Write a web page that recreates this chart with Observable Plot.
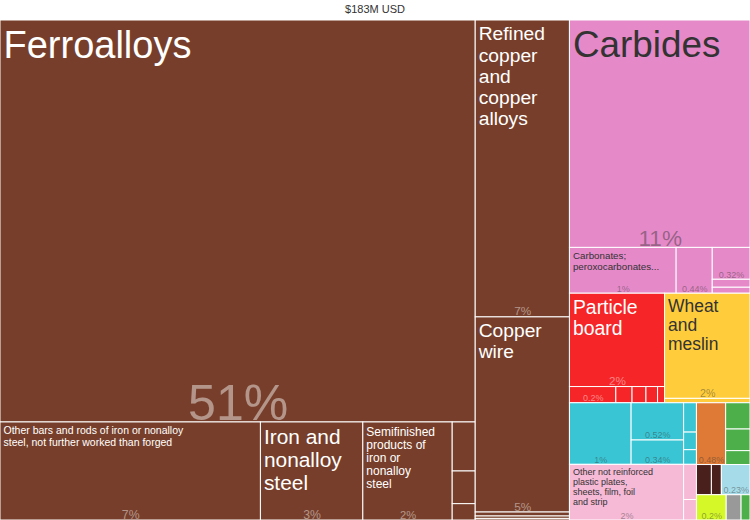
<!DOCTYPE html>
<html>
<head>
<meta charset="utf-8">
<script src="https://cdn.jsdelivr.net/npm/d3@7"></script>
<script src="https://cdn.jsdelivr.net/npm/@observablehq/plot@0.6"></script>
<style>
  body { margin: 0; font-family: "Liberation Sans", Arial, sans-serif; }
  #title { height: 20px; line-height: 18px; text-align: center; font-size: 11px; color: #333; }
</style>
</head>
<body>
<div id="title">$183M USD</div>
<div id="chart"></div>
<script>
// leaf names, share of total (%), colour, and the nesting path used by the slice/dice layout
const names = [
  "Ferroalloys", "Other bars and rods of iron or nonalloy steel, not further worked than forged",
  "Iron and nonalloy steel", "Semifinished products of iron or nonalloy steel", "", "", "",
  "Refined copper and copper alloys", "Copper wire", "", "", "",
  "Carbides", "Carbonates; peroxocarbonates...", "", "", "", "",
  "Particle board", "", "", "", "", "", "Wheat and meslin", "",
  "", "", "", "", "", "", "Other not reinforced plastic plates, sheets, film, foil and strip", "", "",
  "", "", "", "", "", "", "", "", "", ""
]
const values = [
  50.8, 6.79, 2.67, 2.33, 0.3, 0.2, 0.1,
  7.44, 4.89, 0.1, 0.06, 0.04,
  10.92, 1.3, 0.44, 0.32, 0.08, 0.06,
  2.36, 0.2, 0.07, 0.06, 0.05, 0.03, 2.39, 0.1,
  1.01, 0.52, 0.34, 0.1, 0.06, 0.05, 1.69, 0.12, 0.07,
  0.48, 0.17, 0.14, 0.09, 0.12, 0.08, 0.23, 0.2, 0.1, 0.06
]
const colors = [
  "#773f2b", "#773f2b", "#773f2b", "#773f2b", "#773f2b", "#773f2b", "#773f2b",
  "#773f2b", "#773f2b", "#773f2b", "#773f2b", "#773f2b",
  "#e589c8", "#e589c8", "#e589c8", "#e589c8", "#e589c8", "#e589c8",
  "#f62528", "#f62528", "#f62528", "#f62528", "#f62528", "#f62528", "#ffcd3c", "#ffcd3c",
  "#3ac5d4", "#3ac5d4", "#3ac5d4", "#3ac5d4", "#3ac5d4", "#3ac5d4", "#f6b9d6", "#f6b9d6", "#f6b9d6",
  "#de7a35", "#4caf4a", "#4caf4a", "#4caf4a", "#4a201c", "#4a201c", "#a6dce9", "#d4f828", "#999999", "#4caf4a"
]
const paths = [
  "A/a", "A/b", "A/b", "A/b", "A/b/s", "A/b/s", "A/b/s",
  "B", "B", "B/s/t", "B/s/t", "B/s/t",
  "C/a/x", "C/a/x/r", "C/a/x/r", "C/a/x/r/c", "C/a/x/r/c", "C/a/x/r/c",
  "C/b/p", "C/b/p/r", "C/b/p/r", "C/b/p/r", "C/b/p/r", "C/b/p/r", "C/b/w", "C/b/w",
  "C/c/l/cy", "C/c/l/cy/m", "C/c/l/cy/m", "C/c/l/cy/s", "C/c/l/cy/s", "C/c/l/cy/s", "C/c/l/pk", "C/c/l/pk/s", "C/c/l/pk/s",
  "C/c/o/t", "C/c/o/t/g", "C/c/o/t/g", "C/c/o/t/g", "C/c/o/m", "C/c/o/m", "C/c/o/m", "C/c/o/b", "C/c/o/b", "C/c/o/b"
]

const W = 750, H = 500

// build nested tree from paths
const root = {children: []}
names.forEach((name, i) => {
  let node = root
  for (const key of paths[i].split("/")) {
    let child = node.children.find(c => c.key === key)
    if (!child) { child = {key, children: []}; node.children.push(child) }
    node = child
  }
  node.children.push({name, value: values[i], color: colors[i], children: []})
})

const h = d3.hierarchy(root, d => d.children.length ? d.children : null)
  .sum(d => d.children.length ? 0 : d.value)
d3.treemap().size([W, H]).tile(d3.treemapSliceDice).round(false)(h)

const total = d3.sum(values)
const fmt = v => {
  const p = v / total * 100
  return p >= 1 ? Math.round(p) + "%" : (+p.toPrecision(2)) + "%"
}

function wrap(text, size, width) {
  const words = text.split(" "), lines = []
  let cur = ""
  for (const w of words) {
    const t = cur ? cur + " " + w : w
    if (t.length * size * 0.55 > width && cur) { lines.push(cur); cur = w } else cur = t
  }
  if (cur) lines.push(cur)
  return lines
}

const cells = h.leaves().map(l => {
  const d = l.data, w = l.x1 - l.x0, ht = l.y1 - l.y0
  const dark = d3.lab(d.color).l > 62
  let label = "", fs = 10
  if (d.name && w > 40 && ht > 40) {
    const maxFs = d.name.length > 60 ? 10.5 : d.name.length > 40 ? 12 : Math.min(38, w / 4.9)
    for (fs = maxFs; fs > 8; fs -= 0.5) {
      const lines = wrap(d.name, fs, w - 6)
      const longest = d3.max(lines, s => s.length) * fs * 0.55
      if (lines.length * fs * 1.1 <= ht * 0.75 && longest <= w - 4) { label = lines.join("\n"); break }
    }
    if (!label) { fs = 10; label = wrap(d.name, 10, w - 6).slice(0, 2).join("\n") }
  }
  return {
    x1: l.x0, x2: l.x1, y1: l.y0, y2: l.y1, color: d.color, label, fs,
    textColor: dark ? "#333" : "#fff",
    pct: (w > 28 && ht > 13) ? fmt(d.value) : "",
    pfs: Math.max(9, Math.min(50, Math.min(w, ht) / 8))
  }
})

const chart = Plot.plot({
  width: W,
  height: H,
  margin: 0,
  x: {domain: [0, W], range: [0, W], axis: null},
  y: {domain: [0, H], range: [0, H], axis: null},
  style: {fontFamily: "'Liberation Sans', Arial, sans-serif"},
  marks: [
    Plot.rect(cells, {x1: "x1", x2: "x2", y1: "y1", y2: "y2", fill: "color", stroke: "#fff", strokeWidth: 1}),
    Plot.text(cells.filter(d => d.label), {
      x: "x1", y: d => d.y1 + 2 + d.fs * 0.15, text: "label", dx: 3, fontSize: "fs",
      textAnchor: "start", lineAnchor: "top", lineHeight: 1.1, fill: "textColor"
    }),
    Plot.text(cells.filter(d => d.pct), {
      x: d => (d.x1 + d.x2) / 2, y: "y2", text: "pct", dy: -2, fontSize: "pfs",
      lineAnchor: "bottom", fill: "textColor", fillOpacity: 0.45
    })
  ]
})

d3.select("#chart").append(() => chart)
</script>
</body>
</html>
